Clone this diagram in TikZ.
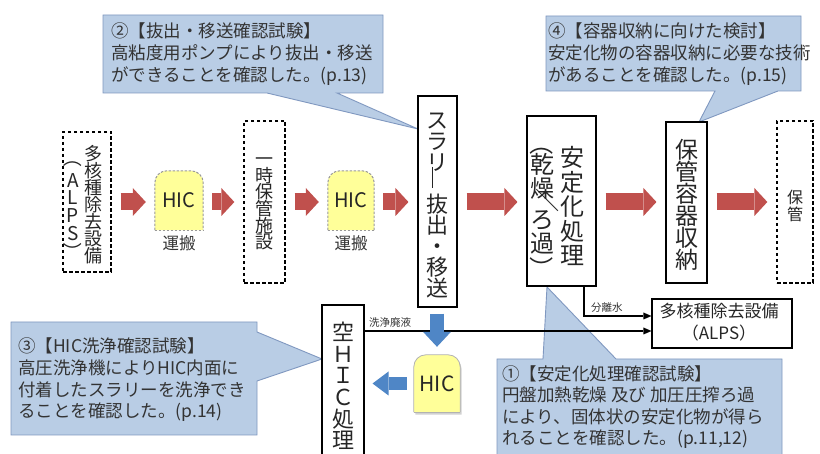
\documentclass[tikz,border=0pt]{standalone}
\usepackage{fontspec}
\setmainfont{Noto Sans CJK JP}
\usepackage{graphicx}
\usetikzlibrary{arrows.meta}
\definecolor{cbfill}{HTML}{B9CDE5}
\definecolor{cbline}{HTML}{8098C0}
\definecolor{redarr}{HTML}{C0504D}
\definecolor{bluearr}{HTML}{4F86C6}
\definecolor{hicfill}{HTML}{FFFF99}
\definecolor{txt}{HTML}{262626}
\definecolor{ctxt}{HTML}{333333}
\newcommand{\vfs}[2]{\fontsize{#1}{#2}\selectfont\lineskiplimit=-50pt\lineskip=0pt}
\newcommand{\vrot}[1]{\rotatebox[origin=c]{-90}{#1}}
\begin{document}
\begin{tikzpicture}[x=1pt,y=-1pt,
 callout/.style={fill=cbfill, draw=cbline, line width=0.9pt, line join=miter},
 ctext/.style={anchor=west, inner sep=0pt, align=left, text=ctxt, font=\vfs{17.5}{21.7}},
 solidbox/.style={draw=black, line width=1.1pt, fill=white, inner sep=0pt},
 dashbox/.style={draw=black, line width=1.3pt, dash pattern=on 3.5pt off 2.5pt, fill=white, inner sep=0pt},
 vtext/.style={inner sep=0pt, align=center, text=txt},
 redflow/.style={draw=redarr, line width=17pt, -{Triangle[width=28pt,length=13pt,line width=0pt]}, shorten <=9pt, shorten >=9pt},
 blueflowv/.style={draw=bluearr, line width=14pt, -{Triangle[width=28pt,length=15pt,line width=0pt]}},
 blueflowh/.style={draw=bluearr, line width=13pt, -{Triangle[width=24pt,length=16pt,line width=0pt]}},
 flow/.style={draw=black, line width=1.6pt, -{Triangle[width=7pt,length=8pt,line width=0pt]}},
 small/.style={inner sep=0pt, anchor=west, text=ctxt, font=\fontsize{10.5}{12}\selectfont},
 hicnode/.style={inner sep=0pt, text=txt},
 hicborder/.style={draw=gray!80, line width=1pt, dash pattern=on 2.5pt off 1.5pt},
]
\clip (0,0) rectangle (820,454);
\fill[white] (0,0) rectangle (820,454);

% ---- callouts (background) ----
\draw[callout] (103,15) -- (383,15) -- (383,93) -- (337,93) -- (418,129) -- (267,93) -- (103,93) -- cycle;
\draw[callout] (546,16) -- (801,16) -- (801,91) -- (778,91) -- (699,122) -- (715,91) -- (546,91) -- cycle;
\draw[callout] (11,322) -- (257,322) -- (257,332) -- (322,359) -- (257,381) -- (257,435) -- (11,435) -- cycle;
\draw[callout] (497,359) -- (543,359) -- (547,287) -- (616,359) -- (782,359) -- (782,470) -- (497,470) -- cycle;

\node[ctext] (c2) at (111,54) {②【抜出・移送確認試験】\\高粘度用ポンプにより抜出・移送\\ができることを確認した。(p.13)};
\node[ctext] (c4) at (548,54) {④【容器収納に向けた検討】\\安定化物の容器収納に必要な技術\\があることを確認した。(p.15)};
\node[ctext] (c3) at (18,380) {③【HIC洗浄確認試験】\\高圧洗浄機によりHIC内面に\\付着したスラリーを洗浄でき\\ることを確認した。(p.14)};
\node[ctext, font=\vfs{17.5}{21.3}] (c1) at (502,407) {①【安定化処理確認試験】\\円盤加熱乾燥 及び 加圧圧搾ろ過\\により、固体状の安定化物が得ら\\れることを確認した。(p.11,12)};

% ---- boxes ----
\node[dashbox, minimum width=48pt, minimum height=140pt] (alps) at (87,202) {};
\node[vtext, font=\vfs{18}{17}] (alpsr) at (93,205) {多\\核\\種\\除\\去\\設\\備};
\node[vtext, font=\vfs{19}{17.8}] (alpsl) at (73,207) {A\\L\\P\\S};
\node[vtext, font=\vfs{19}{19}] (alpsp1) at (73,158) {\vrot{（}};
\node[vtext, font=\vfs{19}{19}] (alpsp2) at (73,252) {\vrot{）}};

\node[dashbox, minimum width=41pt, minimum height=162pt] (tmp) at (264.5,202) {};
\node[vtext, font=\vfs{18}{16.6}] (tmpt) at (264.5,204) {一\\時\\保\\管\\施\\設};

\node[solidbox, minimum width=39pt, minimum height=211pt] (slurry) at (437.5,201.5) {};
\node[vtext, font=\vfs{22}{21}] (slurryt) at (437.5,206) {ス\\ラ\\リ\\\phantom{ス}\\抜\\出\\・\\移\\送};
\coordinate (vb1) at (432.5,167);
\coordinate (vb2) at (432.5,188);
\draw[txt, line width=1.6pt] (vb1) -- (vb2);

\node[solidbox, minimum width=69pt, minimum height=170pt] (stab) at (561.5,201) {};
\node[vtext, font=\vfs{24}{24.5}] (stabr) at (572,206) {安\\定\\化\\処\\理};
\node[vtext, font=\vfs{24}{24}] (stabp1) at (542,144) {\vrot{（}};
\node[vtext, font=\vfs{24}{23.5}] (stabl1) at (542,176.5) {乾\\燥};
\node[vtext, font=\vfs{24}{24}] (stabsl) at (548,201) {\vrot{／}};
\node[vtext, font=\vfs{24}{24}] (stabl2) at (542,232) {ろ\\過};
\node[vtext, font=\vfs{24}{24}] (stabp2) at (542,269) {\vrot{）}};

\node[solidbox, minimum width=41pt, minimum height=161pt] (keep) at (686.5,202.5) {};
\node[vtext, font=\vfs{23}{22}] (keept) at (686.5,205) {保\\管\\容\\器\\収\\納};

\node[dashbox, minimum width=36pt, minimum height=162pt] (hokan) at (795,202) {};
\node[vtext, font=\vfs{16}{17}] (hokant) at (795,206) {保\\管};

\node[solidbox, minimum width=42pt, minimum height=165pt] (khic) at (343,387.5) {};
\node[vtext, font=\vfs{22}{21.6}] (khict) at (343,386) {空\\Ｈ\\Ｉ\\Ｃ\\処\\理};

\node[solidbox, minimum width=140pt, minimum height=49pt] (alps2) at (722,323.5) {};
\node[vtext, font=\vfs{17}{22}] (alps2t) at (719,322) {多核種除去設備\\（ALPS）};

% ---- HIC containers ----
\node[hicnode, minimum width=48pt, minimum height=59pt, font=\fontsize{20}{24}\selectfont] (hic1) at (179,200.5) {};
\node[hicnode, minimum width=46pt, minimum height=59pt, font=\fontsize{20}{24}\selectfont] (hic2) at (351,200.5) {};
\node[hicnode, minimum width=46pt, minimum height=57pt, font=\fontsize{21}{24}\selectfont] (hic3) at (437,383.5) {};

\fill[hicfill, rounded corners=12pt] (hic1.south west) -- (hic1.north west) -- (hic1.north east) -- (hic1.south east);
\draw[hicborder, rounded corners=12pt] (hic1.south west) -- (hic1.north west) -- (hic1.north east) -- (hic1.south east);
\draw[hicborder] (hic1.south west) -- (hic1.south east);
\fill[hicfill, rounded corners=12pt] (hic2.south west) -- (hic2.north west) -- (hic2.north east) -- (hic2.south east);
\draw[hicborder, rounded corners=12pt] (hic2.south west) -- (hic2.north west) -- (hic2.north east) -- (hic2.south east);
\draw[hicborder] (hic2.south west) -- (hic2.south east);

\fill[black, opacity=0.18, rounded corners=12pt] ([shift={(1.5,2.5)}]hic3.south west) -- ([shift={(1.5,2.5)}]hic3.north west) -- ([shift={(1.5,2.5)}]hic3.north east) -- ([shift={(1.5,2.5)}]hic3.south east);
\fill[hicfill, rounded corners=12pt] (hic3.south west) -- (hic3.north west) -- (hic3.north east) -- (hic3.south east);
\draw[draw=gray!60, line width=0.8pt, rounded corners=12pt] (hic3.south west) -- (hic3.north west) -- (hic3.north east) -- (hic3.south east);
\draw[draw=gray!60, line width=0.8pt] (hic3.south west) -- (hic3.south east);

\node[hicnode, font=\fontsize{20}{24}\selectfont] (hic1t) at (hic1.center) {HIC};
\node[hicnode, font=\fontsize{20}{24}\selectfont] (hic2t) at (hic2.center) {HIC};
\node[hicnode, font=\fontsize{21}{24}\selectfont] (hic3t) at (hic3.center) {HIC};
\node[hicnode, text=ctxt, font=\fontsize{16.5}{20}\selectfont] (carry1) at (179,243) {運搬};
\node[hicnode, text=ctxt, font=\fontsize{16.5}{20}\selectfont] (carry2) at (351,243) {運搬};

% ---- thin flow lines ----
\coordinate (sepc) at (584,316);
\draw[flow] ([xshift=22.5pt]stab.south) -- (sepc) -- (sepc -| alps2.west);
\node[small] (seplbl) at (591,308) {分離水};
\coordinate (washc) at (364,331);
\draw[flow] (khic.east |- washc) -- (alps2.west |- washc);
\node[small] (washlbl) at (369,323) {洗浄廃液};

% ---- red main flow arrows ----
\coordinate (fy) at (0,202);
\draw[redflow] (alps.east |- fy) -- (hic1.west |- fy);
\draw[redflow] (hic1.east |- fy) -- (tmp.west |- fy);
\draw[redflow] (tmp.east |- fy) -- (hic2.west |- fy);
\draw[redflow] (hic2.east |- fy) -- (slurry.west |- fy);
\draw[redflow] (slurry.east |- fy) -- (stab.west |- fy);
\draw[redflow] (stab.east |- fy) -- (keep.west |- fy);
\draw[redflow] (keep.east |- fy) -- (hokan.west |- fy);

% ---- blue arrows ----
\draw[blueflowv] ([yshift=-6pt]hic3.north |- slurry.south) -- ([yshift=8pt]hic3.north);
\draw[blueflowh] ([xshift=-7pt]hic3.west) -- ([xshift=8pt]hic3.west -| khic.east);
\end{tikzpicture}
\end{document}
